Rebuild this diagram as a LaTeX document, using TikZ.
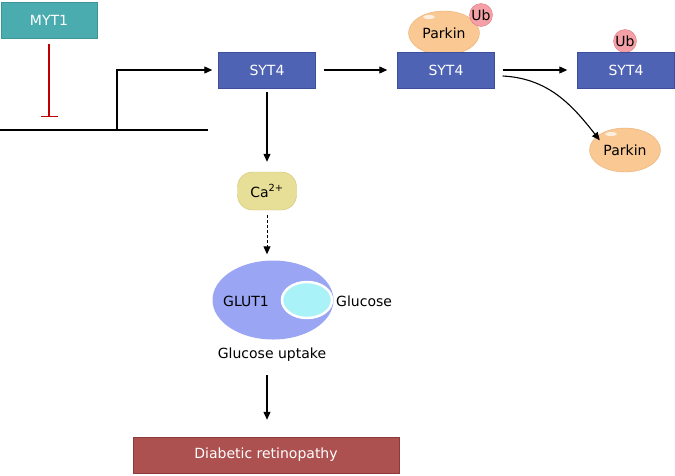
\documentclass[tikz,border=0pt]{standalone}
\usepackage{fontspec}
\setmainfont{DejaVu Sans}
\usetikzlibrary{arrows.meta,shapes.geometric}
\definecolor{mytteal}{HTML}{4BACB0}
\definecolor{mytedge}{HTML}{3E9599}
\definecolor{sytblue}{HTML}{4F63B5}
\definecolor{sytedge}{HTML}{3C4E9C}
\definecolor{parkinfill}{HTML}{F9C893}
\definecolor{parkinedge}{HTML}{EBAE70}
\definecolor{ubfill}{HTML}{F4A0A6}
\definecolor{ubedge}{HTML}{E07A82}
\definecolor{cafill}{HTML}{E7DF98}
\definecolor{caedge}{HTML}{CFC570}
\definecolor{glutblue}{HTML}{9AA6F4}
\definecolor{glucyan}{HTML}{A8F2F8}
\definecolor{retinored}{HTML}{AD5050}
\definecolor{retinoedge}{HTML}{8E3A3A}
\definecolor{inhibred}{HTML}{C00000}
\tikzset{
  box/.style={rectangle, inner sep=0pt, minimum height=36pt, text=white},
  sytbox/.style={box, fill=sytblue, draw=sytedge, minimum width=97pt},
  parkin/.style={ellipse, inner sep=0pt, fill=parkinfill, draw=parkinedge,
    minimum width=71pt, minimum height=44pt},
  ub/.style={circle, inner sep=0pt, fill=ubfill, draw=ubedge, minimum size=23pt},
  arr/.style={-{Triangle[length=8pt,width=7pt]}, line width=1.1pt},
  shine/.style={white, opacity=.7}
}
\begin{document}
\begin{tikzpicture}[x=1pt, y=-1pt, font=\fontsize{14}{16}\selectfont]
    \useasboundingbox (0,0) rectangle (675,475);
    % gene and its repressor
    \node[box, fill=mytteal, draw=mytedge, minimum width=96pt] (myt) at (49,20) {MYT1};
    \coordinate (dnaL) at (0,130);
    \coordinate (dnaR) at (208,130);
    \coordinate (tss) at (117,130);
    \coordinate (gene) at (49,117);
    \draw[line width=1.3pt] (dnaL) -- (dnaR);
    \draw[inhibred, line width=1.1pt, -{Bar[width=17pt]}, shorten <=6pt] (myt.south) -- (gene);
    % SYT4 and parkin
    \node[sytbox] (syt1) at (267,70) {SYT4};
    \node[parkin] (parkin1) at (444,33) {Parkin};
    \fill[shine] (429,17) ellipse (6 and 2);
    \node[ub] (ub1) at (481,15) {Ub};
    \node[sytbox] (syt2) at (446,70) {SYT4};
    \node[ub] (ub2) at (625,41) {Ub};
    \node[sytbox] (syt3) at (626,70) {SYT4};
    \node[parkin] (parkin2) at (625,150) {Parkin};
    \fill[shine] (611,134) ellipse (6 and 2);
    \draw[arr] (tss) |- ([xshift=-6pt]syt1.west);
    \draw[arr, shorten <=8pt, shorten >=10pt] (syt1.east) -- (syt2.west);
    \draw[arr, shorten <=8pt, shorten >=10pt] (syt2.east) -- (syt3.west);
    \draw[arr] ([xshift=8pt,yshift=-6pt]syt2.east) to[out=-3, in=128] ([yshift=-6pt]parkin2.north west);
    % calcium and glucose uptake
    \node[rounded corners=15pt, inner sep=0pt, fill=cafill, draw=caedge,
      minimum width=59pt, minimum height=38pt] (ca) at (267,191) {Ca\textsuperscript{2+}};
    \node[ellipse, fill=glutblue, minimum width=121pt, minimum height=79pt] (glut) at (273,300) {};
    \node[ellipse, fill=glucyan, draw=white, line width=2.5pt,
      minimum width=50pt, minimum height=36pt] (glc) at (307,300) {};
    \node (glutlabel) at (246,301) {GLUT1};
    \node[anchor=west, inner sep=0pt] (glclabel) at (336,301) {Glucose};
    \node (uptake) at (272,355) {Glucose uptake};
    \node[box, fill=retinored, draw=retinoedge, minimum width=266pt] (retino) at (266,455) {Diabetic retinopathy};
    \draw[arr, shorten <=4pt, shorten >=10pt] (syt1.south) -- (ca.north);
    \draw[arr, line width=.9pt, dash pattern=on 3pt off 2pt, shorten <=5pt, shorten >=6pt] (ca.south) -- (ca.south |- glut.north);
    \draw[arr, shorten <=10pt, shorten >=17pt] (uptake.south -| ca) -- (retino.north -| ca);
\end{tikzpicture}
\end{document}
